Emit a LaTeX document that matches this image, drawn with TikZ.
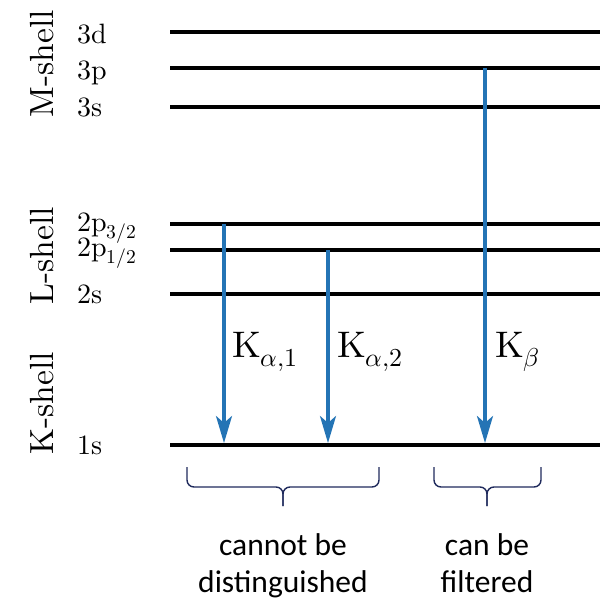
\documentclass[tikz,border=0pt]{standalone}
\usepackage{unicode-math}
\setmainfont{lmroman10-regular}[Extension=.otf]
\setmathfont{latinmodern-math.otf}
\newfontfamily\notefont{Carlito}
\usetikzlibrary{arrows.meta}
\definecolor{Ink}{HTML}{000000}
\definecolor{RayBlue}{HTML}{2474B5}
\definecolor{BraceEdge}{HTML}{1F2A5C}
\tikzset{
  level/.style={draw=Ink, line width=4.2pt},
  transition/.style={-{Stealth[length=27pt,width=16pt,inset=7pt]}, draw=RayBlue, line width=3.4pt, shorten >=2pt},
  bracket/.style={draw=BraceEdge, line width=1.4pt, rounded corners=7pt},
  shelltitle/.style={rotate=90, anchor=base, inner sep=0pt, font=\fontsize{33.5}{36}\selectfont},
  levellabel/.style={anchor=base west, inner sep=0pt, font=\fontsize{28}{30}\selectfont},
  linelabel/.style={anchor=base west, inner sep=0pt, font=\fontsize{37}{40}\selectfont},
  note/.style={anchor=base, inner sep=0pt, align=center, font=\notefont\fontsize{31.5}{37}\selectfont},
}
\begin{document}
\begin{tikzpicture}[x=1pt, y=-1pt]
  \useasboundingbox (0,0) rectangle (606,599);

  % Energy levels, all starting at the same left edge.
  \coordinate (s3d) at (170,32.3);
  \coordinate (s3p) at (170,68.3);
  \coordinate (s3s) at (170,107.3);
  \coordinate (s2pB) at (170,224.3);
  \coordinate (s2pA) at (170,250.3);
  \coordinate (s2s) at (170,294.3);
  \coordinate (s1s) at (170,445);
  \foreach \lvl in {s3d,s3p,s3s,s2pB,s2pA,s2s,s1s}
    \draw[level] (\lvl) -- ++(430,0);

  % Shell names and level names.
  \node[shelltitle] (mShell) at (53,63.5) {M-shell};
  \node[shelltitle] (lShell) at (53,256) {L-shell};
  \node[shelltitle] (kShell) at (53,403.5) {K-shell};

  \node[levellabel] (t3d) at (77,43.3) {3d};
  \node[levellabel] (t3p) at (77,79.3) {3p};
  \node[levellabel] (t3s) at (77,116.3) {3s};
  \node[levellabel] (t2pB) at (77,231.7) {2p$_{3/2}$};
  \node[levellabel] (t2pA) at (77,256.7) {2p$_{1/2}$};
  \node[levellabel] (t2s) at (77,303.3) {2s};
  \node[levellabel] (t1s) at (77,454) {1s};

  % Transitions into the K-shell.
  \coordinate (kA1) at (224,0);
  \coordinate (kA2) at (328,0);
  \coordinate (kB) at (485,0);
  \draw[transition] (kA1 |- s2pB) -- (kA1 |- s1s);
  \draw[transition] (kA2 |- s2pA) -- (kA2 |- s1s);
  \draw[transition] (kB |- s3p) -- (kB |- s1s);

  \node[linelabel] (lA1) at (232,357) {K$_{\alpha,1}$};
  \node[linelabel] (lA2) at (337,357) {K$_{\alpha,2}$};
  \node[linelabel] (lB) at (495,357) {K$_\beta$};

  % Brackets with their notes.
  \draw[bracket] (187,467) |- (283,487) -- (283,506);
  \draw[bracket] (379,467) |- (283,487) -- (283,506);
  \draw[bracket] (434,467) |- (487,487) -- (487,506);
  \draw[bracket] (541,467) |- (487,487) -- (487,506);

  \node[note] (mixed) at (283,592) {cannot be\\distinguished};
  \node[note] (filtered) at (487,592) {can be\\filtered};
\end{tikzpicture}
\end{document}
